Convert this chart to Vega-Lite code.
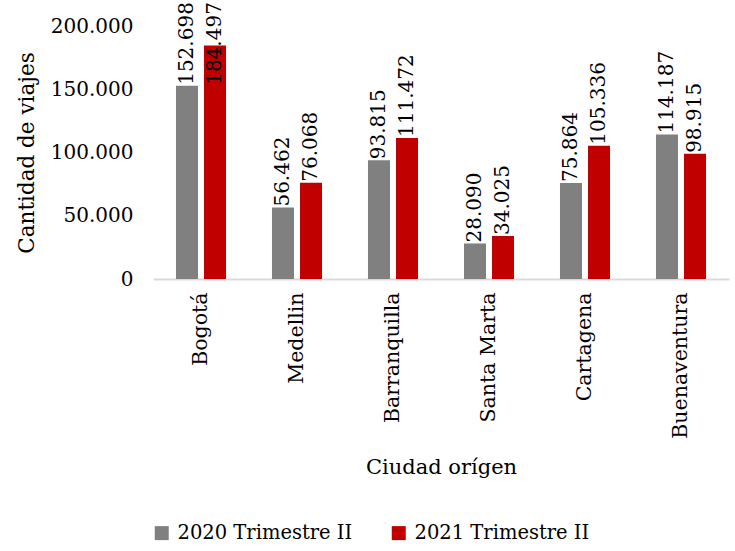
{
  "$schema": "https://vega.github.io/schema/vega-lite/v6.json",
  "autosize": "none",
  "width": 576,
  "height": 253,
  "padding": {"left": 153, "top": 26, "right": 6, "bottom": 272},
  "background": "white",
  "config": {
    "locale": {"number": {"decimal": ",", "thousands": ".", "grouping": [3], "currency": ["$", ""]}},
    "view": {"stroke": null},
    "font": "DejaVu Serif"
  },
  "data": {
    "values": [
      {"ciudad": "Bogotá", "periodo": "2020 Trimestre II", "viajes": 152698},
      {"ciudad": "Bogotá", "periodo": "2021 Trimestre II", "viajes": 184497},
      {"ciudad": "Medellin", "periodo": "2020 Trimestre II", "viajes": 56462},
      {"ciudad": "Medellin", "periodo": "2021 Trimestre II", "viajes": 76068},
      {"ciudad": "Barranquilla", "periodo": "2020 Trimestre II", "viajes": 93815},
      {"ciudad": "Barranquilla", "periodo": "2021 Trimestre II", "viajes": 111472},
      {"ciudad": "Santa Marta", "periodo": "2020 Trimestre II", "viajes": 28090},
      {"ciudad": "Santa Marta", "periodo": "2021 Trimestre II", "viajes": 34025},
      {"ciudad": "Cartagena", "periodo": "2020 Trimestre II", "viajes": 75864},
      {"ciudad": "Cartagena", "periodo": "2021 Trimestre II", "viajes": 105336},
      {"ciudad": "Buenaventura", "periodo": "2020 Trimestre II", "viajes": 114187},
      {"ciudad": "Buenaventura", "periodo": "2021 Trimestre II", "viajes": 98915}
    ]
  },
  "encoding": {
    "x": {
      "field": "ciudad", "type": "nominal", "sort": null,
      "scale": {"paddingInner": 0, "paddingOuter": 0},
      "axis": {
        "title": "Ciudad  orígen", "titleFont": "DejaVu Serif", "titleFontSize": 21, "titleFontWeight": "normal", "titleColor": "#000000", "titlePadding": 18,
        "labelAngle": -90, "labelFontSize": 20.5, "labelColor": "#000000", "labelPadding": 13, "labelFont": "DejaVu Serif",
        "ticks": false, "domainColor": "#d9d9d9", "domainWidth": 2
      }
    },
    "xOffset": {"field": "periodo", "type": "nominal", "scale": {"paddingInner": 0.214, "paddingOuter": 0.82}},
    "y": {
      "field": "viajes", "type": "quantitative",
      "scale": {"domain": [0, 200000]},
      "axis": {
        "title": "Cantidad  de viajes", "titleFont": "DejaVu Serif", "titleFontSize": 21.5, "titleFontWeight": "normal", "titleColor": "#000000", "titlePadding": 12,
        "values": [0, 50000, 100000, 150000, 200000], "format": ",d",
        "labelFontSize": 20, "labelColor": "#000000", "labelPadding": 20, "labelFont": "DejaVu Serif",
        "ticks": false, "domain": false, "grid": false
      }
    }
  },
  "layer": [
    {
      "mark": {"type": "bar"},
      "encoding": {
        "color": {
          "field": "periodo", "type": "nominal",
          "scale": {"domain": ["2020 Trimestre II", "2021 Trimestre II"], "range": ["#808080", "#c00000"]},
          "legend": {
            "title": null, "orient": "none", "direction": "horizontal", "legendX": -1, "legendY": 497,
            "symbolType": "square", "symbolSize": 196, "symbolStrokeWidth": 0,
            "labelFontSize": 19.5, "labelFont": "DejaVu Serif", "labelColor": "#000000", "labelOffset": 6, "columnPadding": 36, "labelLimit": 300
          }
        }
      }
    },
    {
      "transform": [{"filter": "datum.viajes < 160000"}],
      "mark": {"type": "text", "angle": 270, "align": "left", "baseline": "middle", "dx": 1, "fontSize": 20, "font": "DejaVu Serif", "color": "#000000"},
      "encoding": {
        "text": {"field": "viajes", "type": "quantitative", "format": ",d"}
      }
    },
    {
      "transform": [{"filter": "datum.viajes >= 160000"}],
      "mark": {"type": "text", "angle": 270, "align": "left", "baseline": "middle", "dx": 1, "fontSize": 20, "font": "DejaVu Serif", "color": "#000000"},
      "encoding": {
        "y": {"datum": 152698, "type": "quantitative"},
        "text": {"field": "viajes", "type": "quantitative", "format": ",d"}
      }
    }
  ]
}
